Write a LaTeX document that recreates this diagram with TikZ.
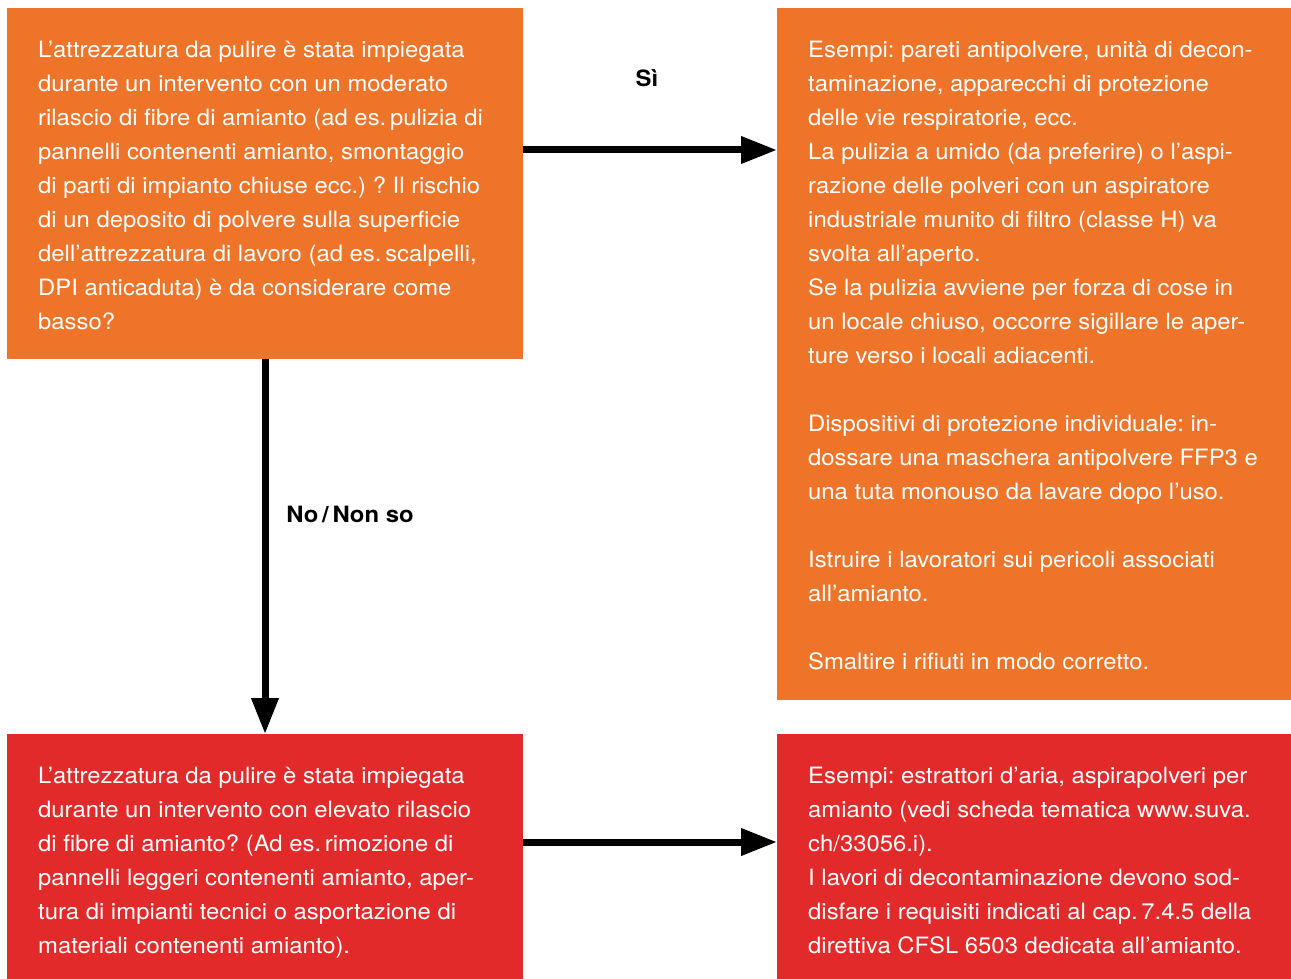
\documentclass[tikz,border=0pt]{standalone}
\usepackage{fontspec}
\setmainfont{TeX Gyre Heros}[FakeStretch=1.06]
\usetikzlibrary{arrows.meta}
\definecolor{boxorange}{HTML}{EE742A}
\definecolor{boxred}{HTML}{E32A2B}
\newcommand{\topstrut}{\rule{0pt}{20pt}}
\frenchspacing
\begin{document}
\begin{tikzpicture}[x=1pt,y=-1pt,
  panel/.style={rectangle, inner sep=0pt, outer sep=0pt, anchor=north west},
  body/.style={anchor=north west, inner sep=0pt, align=left, text=white,
    font=\fontsize{22.5}{34}\selectfont\frenchspacing},
  arr/.style={line width=7pt, -{Triangle[length=36pt,width=26pt]}},
  lbl/.style={font=\fontsize{22.5}{26}\selectfont\bfseries, inner sep=0pt}]
\useasboundingbox (0,0) rectangle (1291,979);
\fill[white] (0,0) rectangle (1291,979);
\node[panel, fill=boxorange, minimum width=516pt, minimum height=351pt] (q1) at (7,8) {};
\node[panel, fill=boxorange, minimum width=514pt, minimum height=692pt] (a1) at (777,8) {};
\node[panel, fill=boxred, minimum width=516pt, minimum height=245pt] (q2) at (7,734) {};
\node[panel, fill=boxred, minimum width=514pt, minimum height=245pt] (a2) at (777,734) {};
\node[body] (t1) at (38,37) {\topstrut L’attrezzatura da pulire è stata impiegata\\
durante un intervento con un moderato\\
rilascio di fibre di amianto (ad es.\,pulizia di\\
pannelli contenenti amianto, smontaggio\\
di parti di impianto chiuse ecc.) ? Il rischio\\
di un deposito di polvere sulla superficie\\
dell’attrezzatura di lavoro (ad es.\,scalpelli,\\
DPI anticaduta) è da considerare come\\
basso?};
\node[body] (t2) at (808,37) {\topstrut Esempi: pareti antipolvere, unità di decon-\\
taminazione, apparecchi di protezione\\
delle vie respiratorie, ecc.\\
La pulizia a umido (da preferire) o l’aspi-\\
razione delle polveri con un aspiratore\\
industriale munito di filtro (classe H) va\\
svolta all’aperto.\\
Se la pulizia avviene per forza di cose in\\
un locale chiuso, occorre sigillare le aper-\\
ture verso i locali adiacenti.\\[34pt]
Dispositivi di protezione individuale: in-\\
dossare una maschera antipolvere FFP3 e\\
una tuta monouso da lavare dopo l’uso.\\[34pt]
Istruire i lavoratori sui pericoli associati\\
all’amianto.\\[34pt]
Smaltire i rifiuti in modo corretto.};
\node[body] (t3) at (38,763) {\topstrut L’attrezzatura da pulire è stata impiegata\\
durante un intervento con elevato rilascio\\
di fibre di amianto? (Ad es.\,rimozione di\\
pannelli leggeri contenenti amianto, aper-\\
tura di impianti tecnici o asportazione di\\
materiali contenenti amianto).};
\node[body] (t4) at (808,763) {\topstrut Esempi: estrattori d’aria, aspirapolveri per\\
amianto (vedi scheda tematica www.suva.\\
ch/33056.i).\\
I lavori di decontaminazione devono sod-\\
disfare i requisiti indicati al cap.\,7.4.5 della\\
direttiva CFSL 6503 dedicata all’amianto.};
\draw[arr] ([yshift=-142pt]q1.north east) -- ([yshift=-142pt]a1.north west);
\draw[arr] ([xshift=258pt]q1.south west) -- ([xshift=258pt]q2.north west);
\draw[arr] ([yshift=-108pt]q2.north east) -- ([yshift=-108pt]a2.north west);
\node[lbl] (si) at (647,78) {Sì};
\node[lbl] (no) at (350,514) {No\,/\,Non so};
\end{tikzpicture}
\end{document}
